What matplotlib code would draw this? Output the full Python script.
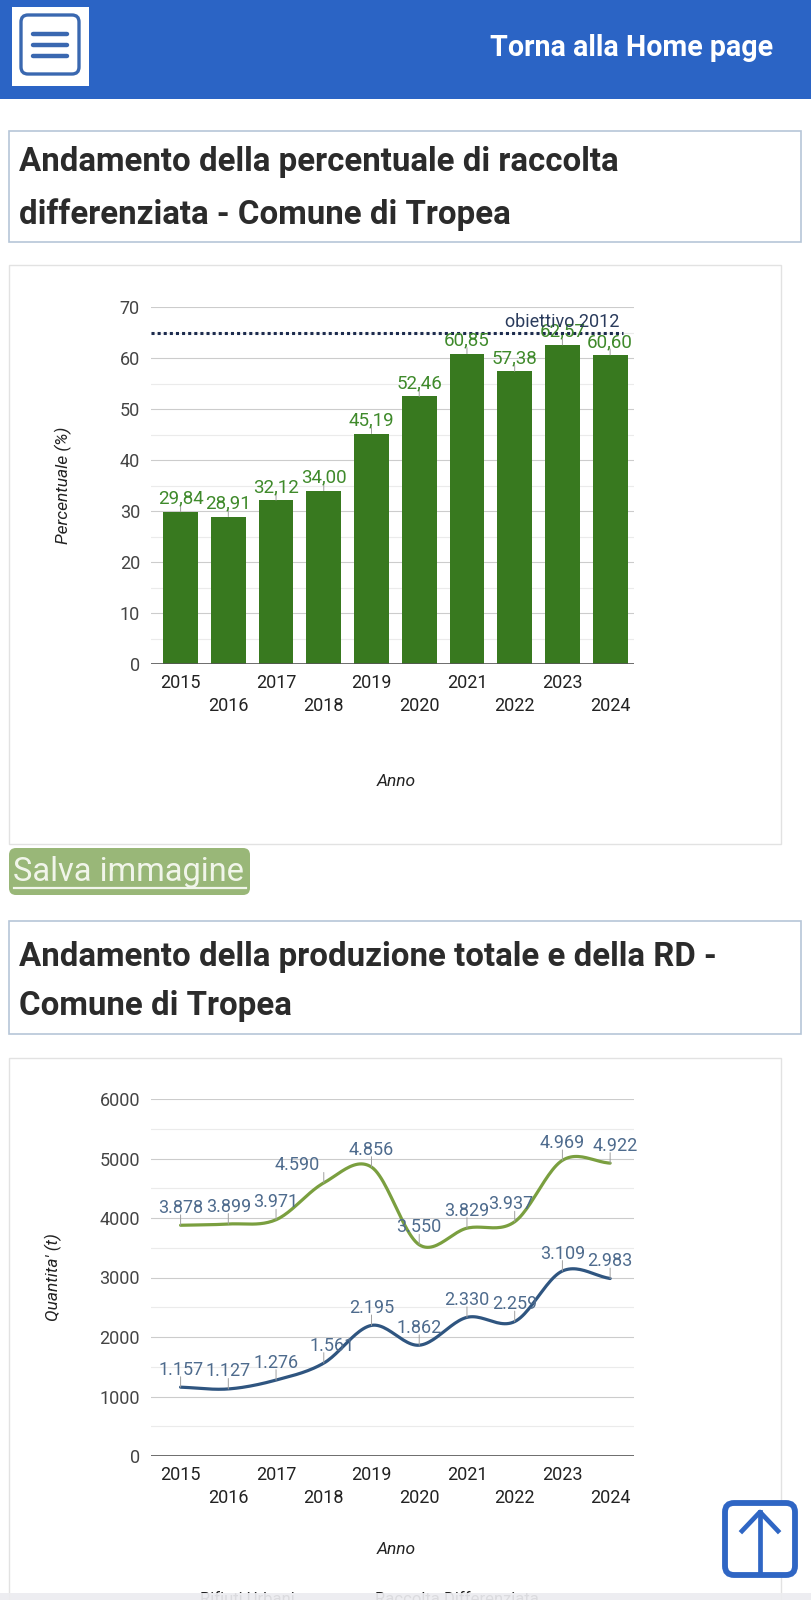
"""Screenshot-style recreation: RD percentage and RU/RD production charts, Comune di Tropea."""
import matplotlib
matplotlib.use("Agg")
import matplotlib.pyplot as plt
from matplotlib.patches import Rectangle, FancyBboxPatch
import numpy as np

plt.rcParams["font.family"] = ["Roboto", "DejaVu Sans"]

W, H = 811, 1600

# --------------------------------------------------------------------------- #
# Data                                                                        #
# --------------------------------------------------------------------------- #
years = ["2015", "2016", "2017", "2018", "2019", "2020", "2021", "2022", "2023", "2024"]
pct_rd = [29.84, 28.91, 32.12, 34.00, 45.19, 52.46, 60.85, 57.38, 62.57, 60.60]
target_2012 = 65
tot_ru = [3878, 3899, 3971, 4590, 4856, 3550, 3829, 3937, 4969, 4922]
tot_rd = [1157, 1127, 1276, 1561, 2195, 1862, 2330, 2259, 3109, 2983]

BLUE = "#2b64c5"
BAR_GREEN = "#38791f"
LBL_GREEN = "#3f8a2b"
RU_GREEN = "#7a9f3f"
RD_BLUE = "#2f5580"
LBL_SLATE = "#4e6b8d"
TXT = "#2b2b2b"

TICK_FS = 13
AXTITLE_FS = 12.5

fig = plt.figure(figsize=(W / 100, H / 100), dpi=100, facecolor="white")
page = fig.add_axes([0, 0, 1, 1])
page.set_xlim(0, W)
page.set_ylim(H, 0)
page.axis("off")
renderer = fig.canvas.get_renderer()


def px_axes(x0, y0, x1, y1):
    ax = fig.add_axes([x0 / W, 1 - y1 / H, (x1 - x0) / W, (y1 - y0) / H])
    ax.set_facecolor("none")
    return ax


def fit_text(x, y, s, width_px, size=None, **kw):
    t = page.text(x, y, s, fontsize=size or 20, **kw)
    if size is None:
        w = t.get_window_extent(renderer).width
        size = 20 * width_px / w
        t.set_fontsize(size)
    return size


def it_dec(v):
    return f"{v:.2f}".replace(".", ",")


def it_thousands(v):
    return f"{v:,}".replace(",", ".")


def catmull_rom(xv, yv, steps=25):
    xv = np.asarray(xv, float)
    yv = np.asarray(yv, float)
    py = np.concatenate([[2 * yv[0] - yv[1]], yv, [2 * yv[-1] - yv[-2]]])
    out_x, out_y = [], []
    t = np.linspace(0, 1, steps)
    h00, h10 = 2 * t**3 - 3 * t**2 + 1, t**3 - 2 * t**2 + t
    h01, h11 = -2 * t**3 + 3 * t**2, t**3 - t**2
    for i in range(len(yv) - 1):
        m0 = (py[i + 2] - py[i]) / 2
        m1 = (py[i + 3] - py[i + 1]) / 2
        out_y.append(h00 * yv[i] + h10 * m0 + h01 * yv[i + 1] + h11 * m1)
        out_x.append(xv[i] + t * (xv[i + 1] - xv[i]))
    return np.concatenate(out_x), np.concatenate(out_y)


# --------------------------------------------------------------------------- #
# Page chrome                                                                 #
# --------------------------------------------------------------------------- #
page.add_patch(Rectangle((0, 0), W, 99, fc=BLUE, ec="none"))
page.add_patch(Rectangle((12, 7), 77, 79, fc="white", ec="none"))
page.add_patch(FancyBboxPatch((21, 15), 58, 59, boxstyle="round,pad=0,rounding_size=7",
                              fc="none", ec="#3a68b0", lw=2.4))
for yy in (34, 45, 56):
    page.plot([33, 67], [yy, yy], color="#3a68b0", lw=3.2, solid_capstyle="round")
fit_text(773, 56, "Torna alla Home page", 282, ha="right", va="baseline",
         color="white", weight="bold")

page.add_patch(Rectangle((9, 131), 792, 111, fc="white", ec="#b6c6d8", lw=1.2))
s1 = fit_text(19, 171, "Andamento della percentuale di raccolta", 599,
              ha="left", va="baseline", color=TXT, weight="bold")
fit_text(19, 224, "differenziata - Comune di Tropea", 0, size=s1,
         ha="left", va="baseline", color=TXT, weight="bold")

page.add_patch(Rectangle((9, 265), 772, 579, fc="white", ec="#e2e2e2", lw=1))

page.add_patch(FancyBboxPatch((9, 848), 241, 47, boxstyle="round,pad=0,rounding_size=7",
                              fc="#99b778", ec="none"))
fit_text(13, 881, "Salva immagine", 231, ha="left", va="baseline", color="#f1f5ea")
page.plot([14, 246], [888, 888], color="#f1f5ea", lw=1.6)

page.add_patch(Rectangle((9, 921), 792, 113, fc="white", ec="#b6c6d8", lw=1.2))
fit_text(19, 966, "Andamento della produzione totale e della RD -", 0, size=s1,
         ha="left", va="baseline", color=TXT, weight="bold")
fit_text(19, 1015, "Comune di Tropea", 0, size=s1,
         ha="left", va="baseline", color=TXT, weight="bold")

page.add_patch(Rectangle((9, 1058), 772, 600, fc="white", ec="#e2e2e2", lw=1))

# legend, mostly hidden below the fold
page.text(200, 1592, "Rifiuti Urbani", fontsize=12, color="#222", va="top")
page.text(375, 1592, "Raccolta Differenziata", fontsize=12, color="#222", va="top")
page.add_patch(Rectangle((0, 1593), W, 10, fc="#ececf0", ec="none", alpha=0.92, zorder=5))

# scroll-to-top button
page.add_patch(FancyBboxPatch((725, 1503), 70, 72, boxstyle="round,pad=0,rounding_size=9",
                              fc="white", ec="#2f66c4", lw=4.2, zorder=6))
page.plot([760, 760], [1512, 1573], color="#2f66c4", lw=3.4, zorder=7)
page.plot([742, 760, 778], [1531, 1512, 1531], color="#2f66c4", lw=3.4, zorder=7)

x = np.arange(len(years))


def style_axes(ax, ymax, ystep):
    ax.set_xlim(-0.62, 9.5)
    ax.set_ylim(0, ymax)
    ax.set_yticks(np.arange(0, ymax + 1, ystep))
    ax.set_yticks(np.arange(ystep / 2, ymax, ystep), minor=True)
    ax.grid(axis="y", which="major", color="#cccccc", lw=0.8, zorder=0)
    ax.grid(axis="y", which="minor", color="#ebebeb", lw=0.8, zorder=0)
    ax.axhline(0, color="#555555", lw=1.2, zorder=4)
    for sp in ax.spines.values():
        sp.set_visible(False)
    ax.set_xticks(x[::2], labels=years[::2])
    ax.set_xticks(x[1::2], labels=years[1::2], minor=True)
    ax.tick_params(axis="both", which="both", length=0, labelsize=TICK_FS)
    ax.tick_params(axis="y", pad=8, labelcolor="#444444")
    ax.tick_params(axis="x", which="major", pad=7, labelcolor="#222222")
    ax.tick_params(axis="x", which="minor", pad=23.5, labelcolor="#222222")


# --------------------------------------------------------------------------- #
# Chart 1 - percentage of separate collection                                 #
# --------------------------------------------------------------------------- #
axb = px_axes(151, 307, 634, 664)
style_axes(axb, 70, 10)
axb.bar(x, pct_rd, width=0.73, color=BAR_GREEN, zorder=3)
for i, v in enumerate(pct_rd):
    axb.annotate("", xy=(i, v), xytext=(0, 4.3), textcoords="offset points",
                 arrowprops=dict(arrowstyle="-", color="#a0a0a0", lw=0.7,
                                 shrinkA=0, shrinkB=0), zorder=5)
    axb.annotate(it_dec(v), xy=(i, v), xytext=(0, 5.8), textcoords="offset points",
                 ha="center", va="baseline", fontsize=13.5, color=LBL_GREEN, zorder=6)
axb.hlines(target_2012, -0.62, 9.26, colors="#1c2b4d", linestyles=(0, (1, 1)),
           lw=2.2, zorder=5)
axb.annotate("obiettivo 2012", xy=(9.19, target_2012), xytext=(0, 1.2),
             textcoords="offset points", ha="right", va="bottom",
             fontsize=13, color="#2a3b5c", zorder=7)
axb.text(-0.182, 0.5, "Percentuale (%)", transform=axb.transAxes, rotation=90,
         ha="center", va="center", fontsize=AXTITLE_FS, style="italic", color="#222")
axb.text(0.507, -0.33, "Anno", transform=axb.transAxes, ha="center", va="center",
         fontsize=AXTITLE_FS, style="italic", color="#222")

# --------------------------------------------------------------------------- #
# Chart 2 - total production and separate collection                          #
# --------------------------------------------------------------------------- #
axl = px_axes(151, 1099, 634, 1456)
style_axes(axl, 6000, 1000)
for series, col in ((tot_ru, RU_GREEN), (tot_rd, RD_BLUE)):
    sx, sy = catmull_rom(x, series)
    axl.plot(sx, sy, color=col, lw=2.3, zorder=3, solid_capstyle="round")

nudge_ru = {3: -19, 7: -3, 9: 3.6}
nudge_rd = {3: 6}
for series, nudge in ((tot_ru, nudge_ru), (tot_rd, nudge_rd)):
    for i, v in enumerate(series):
        axl.annotate("", xy=(i, v), xytext=(0, 7.5), textcoords="offset points",
                     arrowprops=dict(arrowstyle="-", color="#a0a0a0", lw=0.7,
                                     shrinkA=0, shrinkB=0), zorder=5)
        axl.annotate(it_thousands(v), xy=(i, v), xytext=(nudge.get(i, 0), 9),
                     textcoords="offset points", ha="center", va="baseline",
                     fontsize=13, color=LBL_SLATE, zorder=6)
axl.text(-0.203, 0.5, "Quantita' (t)", transform=axl.transAxes, rotation=90,
         ha="center", va="center", fontsize=AXTITLE_FS, style="italic", color="#222")
axl.text(0.507, -0.263, "Anno", transform=axl.transAxes, ha="center", va="center",
         fontsize=AXTITLE_FS, style="italic", color="#222")

fig.savefig("out.png", dpi=100, facecolor="white")
